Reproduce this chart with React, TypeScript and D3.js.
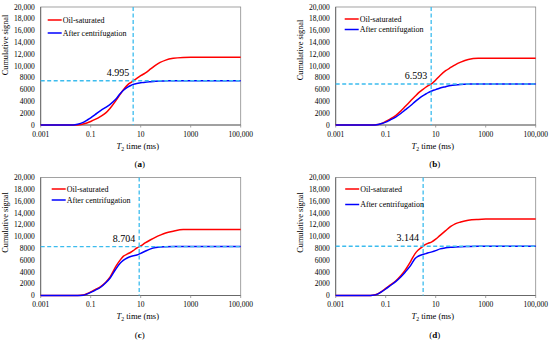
import React from 'react'
import * as d3 from 'd3'

// T2 grid (ms) shared by every curve
const t2Times = [0.001, 0.01, 0.02, 0.03, 0.05, 0.07, 0.1, 0.15, 0.25, 0.4, 0.6, 1, 1.5, 2, 3, 4, 5, 7, 10, 15, 25, 40, 60, 100, 200, 500, 1000, 10000, 100000]

// cumulative signal, one array per sample/state
const oilA = [0, 0, 0, 0, 170, 350, 600, 950, 1480, 2050, 2850, 4100, 5200, 5950, 6800, 7200, 7480, 7900, 8350, 8800, 9500, 10150, 10600, 11000, 11300, 11450, 11480, 11480, 11480]
const centA = [0, 0, 0, 120, 440, 800, 1200, 1750, 2450, 3000, 3500, 4350, 5300, 5850, 6400, 6700, 6880, 7050, 7150, 7260, 7350, 7420, 7460, 7480, 7500, 7500, 7500, 7500, 7500]
const oilB = [0, 0, 0, 0, 80, 280, 600, 1000, 1600, 2350, 3120, 4100, 4870, 5400, 6000, 6400, 6680, 7030, 7620, 8400, 9200, 9750, 10200, 10650, 11100, 11300, 11300, 11300, 11300]
const centB = [0, 0, 0, 0, 100, 250, 480, 850, 1350, 1950, 2550, 3300, 3960, 4400, 4950, 5250, 5480, 5770, 6000, 6270, 6500, 6700, 6800, 6880, 6930, 6950, 6950, 6950, 6950]
const oilC = [0, 0, 0, 0, 80, 290, 600, 1000, 1500, 2250, 3150, 4900, 6000, 6630, 7050, 7330, 7600, 8050, 8400, 8900, 9450, 9900, 10230, 10600, 10900, 11180, 11200, 11200, 11200]
const centC = [0, 0, 0, 0, 60, 230, 520, 880, 1400, 2150, 2970, 4450, 5450, 5950, 6400, 6620, 6720, 6850, 7150, 7500, 7900, 8120, 8220, 8260, 8290, 8300, 8300, 8300, 8300]
const oilD = [0, 0, 0, 40, 320, 700, 1200, 1750, 2450, 3350, 4300, 5800, 7100, 7700, 8300, 8650, 8850, 9100, 9550, 10200, 11000, 11700, 12150, 12450, 12750, 12900, 12950, 12950, 12950]
const centD = [0, 0, 0, 30, 270, 650, 1100, 1650, 2350, 3150, 3950, 5100, 6260, 6650, 6950, 7100, 7230, 7390, 7600, 7900, 8080, 8170, 8220, 8260, 8300, 8340, 8350, 8350, 8350]

const cutoffT2 = [4.995, 6.593, 8.704, 3.144]
const cutoffSignal = [7500, 6950, 8300, 8350]
const cutoffLabels = ['4.995', '6.593', '8.704', '3.144']
const panelLetters = ['a', 'b', 'c', 'd']

const seriesNames = ['Oil-saturated', 'After centrifugation']
const xTicks = [0.001, 0.1, 10, 1000, 100000]
const xTickLabels = ['0.001', '0.1', '10', '1000', '100,000']
const yTicks = [0, 2000, 4000, 6000, 8000, 10000, 12000, 14000, 16000, 18000, 20000]

const FONT = '"Times New Roman", "Liberation Serif", serif'
const RED = '#ff0000'
const BLUE = '#0000ff'
const CYAN = '#3cbcee'

// layout per panel: plot box + legend/title nudges
const panels = [
  { x: 40.7, y: 7, oil: oilA, cent: centA, legX: 7, legY: [13, 26], titleY: 38 },
  { x: 335.7, y: 7, oil: oilB, cent: centB, legX: 9, legY: [12, 22.5], titleY: 43 },
  { x: 40.7, y: 177.5, oil: oilC, cent: centC, legX: 11, legY: [11.5, 22.5], titleY: 45 },
  { x: 335.7, y: 177.5, oil: oilD, cent: centD, legX: 9.5, legY: [11.5, 27], titleY: 45 },
]
const W = 200
const H = 118

function Panel({ i }: { i: number }) {
  const p = panels[i]
  const x = d3.scaleLog().domain([0.001, 100000]).range([0, W])
  const y = d3.scaleLinear().domain([0, 20000]).range([H, 0])
  const line = d3.line<number>()
    .x((_, k) => x(t2Times[k]))
    .y(d => y(d))
    .curve(d3.curveMonotoneX)
  const fmt = (v: number) => (v >= 10000 ? d3.format(',')(v) : String(v))
  const vx = x(cutoffT2[i])
  const hy = y(cutoffSignal[i])

  return (
    <g transform={`translate(${p.x},${p.y})`} fontFamily={FONT} fill="#000">
      <rect x={0} y={0} width={W} height={H} fill="none" stroke="#8c8c8c" strokeWidth={0.8} />
      <line x1={0} x2={0} y1={0} y2={H} stroke="#595959" strokeWidth={0.8} />
      <line x1={0} x2={W} y1={H} y2={H} stroke="#595959" strokeWidth={0.8} />
      {xTicks.map((t, k) => (
        <g key={k}>
          <line x1={x(t)} x2={x(t)} y1={H} y2={H + 2.5} stroke="#8c8c8c" strokeWidth={0.8} />
          <text x={x(t)} y={H + 11.5} textAnchor="middle" fontSize={7.5}>{xTickLabels[k]}</text>
        </g>
      ))}
      {yTicks.map(t => (
        <text key={t} x={-6} y={y(t) + 2.6} textAnchor="end" fontSize={7.5}>{fmt(t)}</text>
      ))}
      <text transform={`translate(-32.5,${p.titleY}) rotate(-90)`} textAnchor="middle" fontSize={8.3}>Cumulative signal</text>
      <text x={W / 2 - 3} y={H + 23.5} textAnchor="middle" fontSize={8.5}>
        <tspan fontStyle="italic">T</tspan>
        <tspan fontSize={5.8} dy={2}>2</tspan>
        <tspan dy={-2}> time (ms)</tspan>
      </text>
      <text x={W / 2 - 1} y={H + 42} textAnchor="middle" fontSize={9}>
        (<tspan fontWeight="bold">{panelLetters[i]}</tspan>)
      </text>

      <path d={line(p.oil) || ''} fill="none" stroke={RED} strokeWidth={1.5} />
      <path d={line(p.cent) || ''} fill="none" stroke={BLUE} strokeWidth={1.5} />

      <line x1={vx} x2={vx} y1={0} y2={H} stroke={CYAN} strokeWidth={1.3} strokeDasharray="4,2.5" />
      <line x1={0} x2={W} y1={hy} y2={hy} stroke={CYAN} strokeWidth={1.3} strokeDasharray="4,2.5" />
      <text x={vx - 4} y={hy - 5} textAnchor="end" fontSize={10}>{cutoffLabels[i]}</text>

      {/* legend */}
      {[RED, BLUE].map((c, k) => (
        <g key={k}>
          <line x1={p.legX} x2={p.legX + 14} y1={p.legY[k]} y2={p.legY[k]} stroke={c} strokeWidth={1.5} />
          <text x={p.legX + 15} y={p.legY[k] + 2.7} fontSize={8}>{seriesNames[k]}</text>
        </g>
      ))}
    </g>
  )
}

export default function App() {
  return (
    <svg width={550} height={340} style={{ position: 'absolute', left: 0, top: 0, background: '#fff' }}>
      {panels.map((_, i) => <Panel key={i} i={i} />)}
    </svg>
  )
}
